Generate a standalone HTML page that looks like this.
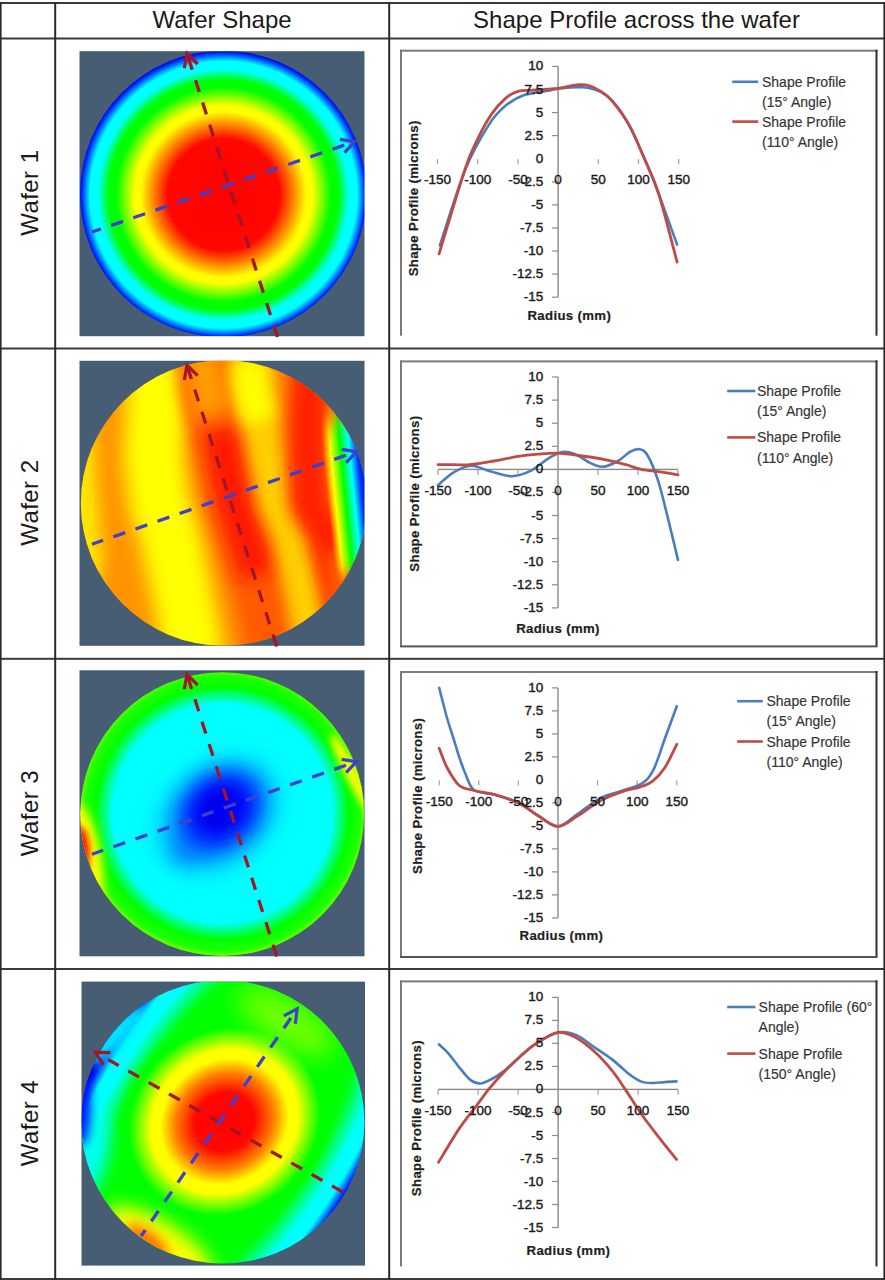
<!DOCTYPE html><html><head><meta charset="utf-8"><style>html,body{margin:0;padding:0;background:#fff;overflow:hidden}svg{display:block}</style></head><body><svg width="885" height="1280" viewBox="0 0 885 1280"><style>.tl{font-family:"Liberation Sans",sans-serif;font-size:13.5px;fill:#1a1a1a;stroke:#1a1a1a;stroke-width:0.4px}.at{font-family:"Liberation Sans",sans-serif;font-size:13.2px;font-weight:bold;letter-spacing:0.35px;fill:#1e1e1e;stroke:#1e1e1e;stroke-width:0.2px}.lg{font-family:"Liberation Sans",sans-serif;font-size:14px;fill:#333;stroke:#333;stroke-width:0.15px}.hd{font-family:"Liberation Sans",sans-serif;font-size:24px;fill:#1a1a1a}.wl{font-family:"Liberation Sans",sans-serif;font-size:24px;letter-spacing:0.45px;fill:#1a1a1a}</style><defs><filter id="b2" filterUnits="userSpaceOnUse" x="-150" y="-150" width="600" height="600"><feGaussianBlur stdDeviation="2"/></filter><filter id="b3" filterUnits="userSpaceOnUse" x="-150" y="-150" width="600" height="600"><feGaussianBlur stdDeviation="3"/></filter><filter id="b4" filterUnits="userSpaceOnUse" x="-150" y="-150" width="600" height="600"><feGaussianBlur stdDeviation="4"/></filter><filter id="b5" filterUnits="userSpaceOnUse" x="-150" y="-150" width="600" height="600"><feGaussianBlur stdDeviation="5"/></filter><filter id="b6" filterUnits="userSpaceOnUse" x="-150" y="-150" width="600" height="600"><feGaussianBlur stdDeviation="6"/></filter><filter id="b7" filterUnits="userSpaceOnUse" x="-150" y="-150" width="600" height="600"><feGaussianBlur stdDeviation="7"/></filter><filter id="b8" filterUnits="userSpaceOnUse" x="-150" y="-150" width="600" height="600"><feGaussianBlur stdDeviation="8"/></filter><filter id="b9" filterUnits="userSpaceOnUse" x="-150" y="-150" width="600" height="600"><feGaussianBlur stdDeviation="9"/></filter><filter id="b10" filterUnits="userSpaceOnUse" x="-150" y="-150" width="600" height="600"><feGaussianBlur stdDeviation="10"/></filter><filter id="b12" filterUnits="userSpaceOnUse" x="-150" y="-150" width="600" height="600"><feGaussianBlur stdDeviation="12"/></filter><filter id="b14" filterUnits="userSpaceOnUse" x="-150" y="-150" width="600" height="600"><feGaussianBlur stdDeviation="14"/></filter><linearGradient id="g2" gradientUnits="userSpaceOnUse" x1="2.8" y1="173.2" x2="282.2" y2="111.8"><stop offset="0.0116" stop-color="#ffee00"/><stop offset="0.0629" stop-color="#ffb800"/><stop offset="0.1380" stop-color="#ff9400"/><stop offset="0.2131" stop-color="#ffd000"/><stop offset="0.2746" stop-color="#ffff00"/><stop offset="0.3429" stop-color="#ffff00"/><stop offset="0.4112" stop-color="#ff9800"/><stop offset="0.4727" stop-color="#ff3800"/><stop offset="0.5137" stop-color="#ff1800"/><stop offset="0.5820" stop-color="#ff1800"/><stop offset="0.6366" stop-color="#ff6400"/><stop offset="0.6776" stop-color="#ffa400"/><stop offset="0.7151" stop-color="#ffb800"/><stop offset="0.7595" stop-color="#ff4c00"/><stop offset="0.8074" stop-color="#ff1800"/><stop offset="0.8483" stop-color="#ff3000"/><stop offset="0.9883" stop-color="#ff7000"/></linearGradient><linearGradient id="g2r" gradientUnits="userSpaceOnUse" x1="245" y1="143" x2="290" y2="138.5"><stop offset="0.08" stop-color="#ffff00" stop-opacity="0"/><stop offset="0.25" stop-color="#ffff00"/><stop offset="0.47" stop-color="#00ff00"/><stop offset="0.67" stop-color="#00ffff"/><stop offset="0.84" stop-color="#0030ff"/><stop offset="1" stop-color="#0010d0"/></linearGradient><mask id="m2"><ellipse cx="275" cy="132" rx="45" ry="84" fill="#fff" filter="url(#b8)"/></mask></defs><text x="222" y="28" text-anchor="middle" class="hd">Wafer Shape</text><text x="636.5" y="28" text-anchor="middle" class="hd">Shape Profile across the wafer</text><text x="38.2" y="235.8" transform="rotate(-90 38.2 235.8)" class="wl">Wafer 1</text><text x="38.2" y="545.8" transform="rotate(-90 38.2 545.8)" class="wl">Wafer 2</text><text x="38.2" y="856.2" transform="rotate(-90 38.2 856.2)" class="wl">Wafer 3</text><text x="38.2" y="1166.2" transform="rotate(-90 38.2 1166.2)" class="wl">Wafer 4</text><g transform="translate(79.5,51.2)"><rect x="0" y="0" width="285" height="285" fill="#465d73"/><clipPath id="cp1"><circle cx="143.8" cy="142.7" r="143.3"/></clipPath><clipPath id="cr1"><rect x="0" y="0" width="285" height="285"/></clipPath><g clip-path="url(#cr1)"><g clip-path="url(#cp1)"><radialGradient id="g1" gradientUnits="userSpaceOnUse" cx="144" cy="143.5" r="143.5"><stop offset="0" stop-color="#ff0000"/><stop offset="0.39" stop-color="#ff0800"/><stop offset="0.49" stop-color="#ff8800"/><stop offset="0.58" stop-color="#ffff00"/><stop offset="0.62" stop-color="#ffff00"/><stop offset="0.75" stop-color="#00ff00"/><stop offset="0.80" stop-color="#00ff00"/><stop offset="0.875" stop-color="#00ffff"/><stop offset="0.93" stop-color="#00ffff"/><stop offset="0.985" stop-color="#0030ff"/><stop offset="1" stop-color="#0010d8"/></radialGradient><rect x="0" y="0" width="285" height="285" fill="url(#g1)"/></g></g></g><line x1="187" y1="53.5" x2="277.5" y2="337" stroke="#a3162a" stroke-width="3.3" stroke-dasharray="12.5 10.9" stroke-dashoffset="18.8" stroke-linecap="butt"/><polyline points="197.7,64.0 187,53.5 184.3,68.3" fill="none" stroke="#a3162a" stroke-width="3.2" stroke-linejoin="miter"/><line x1="354.7" y1="141.6" x2="92" y2="232" stroke="#3f3fd0" stroke-width="3.3" stroke-dasharray="12.5 10.9" stroke-dashoffset="12.4" stroke-linecap="butt"/><polyline points="344.5,152.6 354.7,141.6 339.9,139.3" fill="none" stroke="#3f3fd0" stroke-width="3.2" stroke-linejoin="miter"/><g transform="translate(79.5,360.8)"><rect x="0" y="0" width="285" height="285" fill="#465d73"/><clipPath id="cp2"><circle cx="144.2" cy="142.2" r="142.8"/></clipPath><clipPath id="cr2"><rect x="0" y="0" width="285" height="285"/></clipPath><g clip-path="url(#cr2)"><g clip-path="url(#cp2)"><rect x="0" y="0" width="285" height="285" fill="#ff9400"/><path d="M-6,-20 L2,120 L8,200 L-10,300" fill="none" stroke="#ffe800" stroke-width="30" stroke-linejoin="round" filter="url(#b8)"/><path d="M80,-20 L78,23 L74,97 L80,143 L90,174 L104,239 L115,300" fill="none" stroke="#ffff00" stroke-width="60" stroke-linejoin="round" filter="url(#b9)"/><path d="M124,-20 L128,23 L140,68 L155,143 L165,174 L183,239 L195,300" fill="none" stroke="#ff5a00" stroke-width="56" stroke-linejoin="round" filter="url(#b8)"/><path d="M140,68 L155,143 L165,174 L178,215" fill="none" stroke="#ff1800" stroke-width="34" stroke-linejoin="round" filter="url(#b9)"/><path d="M120,-20 L126,20 L134,55" fill="none" stroke="#ff9c00" stroke-width="36" stroke-linejoin="round" filter="url(#b9)"/><path d="M168,-20 L171,23 L182,68 L197,143 L212,174 L225,239 L235,300" fill="none" stroke="#ffd000" stroke-width="34" stroke-linejoin="round" filter="url(#b8)"/><path d="M171,0 L171,23 L180,60" fill="none" stroke="#ffff00" stroke-width="34" stroke-linejoin="round" filter="url(#b8)"/><path d="M230,-20 L230,23 L228,68 L230,143 L248,174 L265,239 L275,300" fill="none" stroke="#ff2000" stroke-width="40" stroke-linejoin="round" filter="url(#b8)"/><path d="M262,190 L265,239 L275,300" fill="none" stroke="#ff6000" stroke-width="30" stroke-linejoin="round" filter="url(#b9)"/><rect x="0" y="0" width="285" height="285" fill="url(#g2r)" mask="url(#m2)"/></g></g></g><line x1="187" y1="365.2" x2="276.8" y2="646.5" stroke="#a3162a" stroke-width="3.3" stroke-dasharray="12.5 10.9" stroke-dashoffset="21.4" stroke-linecap="butt"/><polyline points="197.7,375.7 187,365.2 184.3,380.0" fill="none" stroke="#a3162a" stroke-width="3.2" stroke-linejoin="miter"/><line x1="356.4" y1="451.6" x2="92" y2="544.2" stroke="#3f3fd0" stroke-width="3.3" stroke-dasharray="12.5 10.9" stroke-dashoffset="12.4" stroke-linecap="butt"/><polyline points="346.2,462.6 356.4,451.6 341.6,449.3" fill="none" stroke="#3f3fd0" stroke-width="3.2" stroke-linejoin="miter"/><g transform="translate(79.5,670.3)"><rect x="0" y="0" width="285" height="286" fill="#465d73"/><clipPath id="cp3"><circle cx="142.7" cy="143.8" r="141.9"/></clipPath><clipPath id="cr3"><rect x="0" y="0" width="285" height="286"/></clipPath><g clip-path="url(#cr3)"><g clip-path="url(#cp3)"><radialGradient id="g3" gradientUnits="userSpaceOnUse" cx="143" cy="143" r="142"><stop offset="0" stop-color="#00ffff"/><stop offset="0.77" stop-color="#00ffff"/><stop offset="0.845" stop-color="#00ff60"/><stop offset="0.89" stop-color="#00ff00"/><stop offset="0.97" stop-color="#20ff00"/><stop offset="1" stop-color="#60ff00"/></radialGradient><rect x="0" y="0" width="286" height="286" fill="url(#g3)"/><ellipse cx="138" cy="145" rx="64" ry="46" transform="rotate(-40 138 145)" fill="#00a8ff" filter="url(#b12)"/><ellipse cx="118" cy="170" rx="30" ry="16" transform="rotate(-40 118 170)" fill="#0090ff" filter="url(#b9)"/><ellipse cx="141" cy="140" rx="44" ry="36" transform="rotate(-40 141 140)" fill="#0020ff" filter="url(#b10)"/><ellipse cx="141" cy="139" rx="26" ry="22" transform="rotate(-40 141 139)" fill="#0000f0" filter="url(#b7)"/><ellipse cx="4" cy="192" rx="18" ry="60" transform="rotate(-8 4 192)" fill="#ffff00" filter="url(#b5)"/><ellipse cx="0" cy="184" rx="10" ry="28" fill="#ff1000" filter="url(#b3)"/><ellipse cx="275" cy="108" rx="7" ry="50" transform="rotate(-28 275 108)" fill="#f0ff00" filter="url(#b3)"/></g></g></g><line x1="187" y1="674.5" x2="276.8" y2="956.5" stroke="#a3162a" stroke-width="3.3" stroke-dasharray="12.5 10.9" stroke-dashoffset="20.7" stroke-linecap="butt"/><polyline points="197.7,685.0 187,674.5 184.3,689.3" fill="none" stroke="#a3162a" stroke-width="3.2" stroke-linejoin="miter"/><line x1="356.4" y1="761.6" x2="92" y2="854.2" stroke="#3f3fd0" stroke-width="3.3" stroke-dasharray="12.5 10.9" stroke-dashoffset="12.4" stroke-linecap="butt"/><polyline points="346.2,772.6 356.4,761.6 341.6,759.3" fill="none" stroke="#3f3fd0" stroke-width="3.2" stroke-linejoin="miter"/><g transform="translate(81.5,981.6)"><rect x="0" y="0" width="283.5" height="284" fill="#465d73"/><clipPath id="cp4"><circle cx="141.3" cy="140.3" r="141.6"/></clipPath><clipPath id="cr4"><rect x="0" y="0" width="283.5" height="284"/></clipPath><g clip-path="url(#cr4)"><g clip-path="url(#cp4)"><radialGradient id="g4" gradientUnits="userSpaceOnUse" cx="144" cy="142" r="141" gradientTransform="translate(144 142) rotate(32) scale(1 2.1) translate(-144 -142)"><stop offset="0.62" stop-color="#00ff00"/><stop offset="0.68" stop-color="#00ff10"/><stop offset="0.83" stop-color="#00ffff"/><stop offset="0.91" stop-color="#00ffff"/><stop offset="0.975" stop-color="#0020ff"/><stop offset="1" stop-color="#0000d0"/></radialGradient><radialGradient id="g4b" gradientUnits="userSpaceOnUse" cx="143" cy="140" r="141" gradientTransform="translate(143 140) rotate(-40) scale(1.1 1) translate(-143 -140)"><stop offset="0" stop-color="#ff0000"/><stop offset="0.20" stop-color="#ff0800"/><stop offset="0.33" stop-color="#ff8000"/><stop offset="0.43" stop-color="#ffff00"/><stop offset="0.49" stop-color="#ffff00"/><stop offset="0.64" stop-color="#00ff00"/><stop offset="0.74" stop-color="#00ff00" stop-opacity="0"/></radialGradient><rect x="0" y="0" width="284" height="284" fill="url(#g4)"/><rect x="0" y="0" width="284" height="284" fill="url(#g4b)"/><ellipse cx="34" cy="52" rx="12" ry="40" transform="rotate(42 34 52)" fill="#00e8ff" filter="url(#b6)"/><ellipse cx="205" cy="40" rx="55" ry="22" transform="rotate(32 205 40)" fill="#8cff00" opacity="0.8" filter="url(#b12)"/><ellipse cx="10" cy="172" rx="16" ry="44" transform="rotate(12 10 172)" fill="#00ffee" filter="url(#b8)"/><ellipse cx="0" cy="122" rx="9" ry="42" fill="#0018ff" filter="url(#b5)"/><ellipse cx="78" cy="262" rx="62" ry="22" transform="rotate(32 78 262)" fill="#ffff00" filter="url(#b9)"/><ellipse cx="66" cy="260" rx="26" ry="10" transform="rotate(38 66 260)" fill="#ff7000" filter="url(#b6)"/></g></g></g><line x1="95.4" y1="1052.3" x2="342.9" y2="1192" stroke="#a3162a" stroke-width="3.3" stroke-dasharray="12.5 10.9" stroke-dashoffset="9.1" stroke-linecap="butt"/><polyline points="110.4,1052.7 95.4,1052.3 103.5,1064.9" fill="none" stroke="#a3162a" stroke-width="3.2" stroke-linejoin="miter"/><line x1="297.1" y1="1008.9" x2="141.2" y2="1236" stroke="#3f3fd0" stroke-width="3.3" stroke-dasharray="12.5 10.9" stroke-dashoffset="12.4" stroke-linecap="butt"/><polyline points="295.4,1023.8 297.1,1008.9 283.8,1015.8" fill="none" stroke="#3f3fd0" stroke-width="3.2" stroke-linejoin="miter"/><rect x="400" y="49.7" width="477.5" height="2" fill="#7a7a7a"/><rect x="400" y="49.7" width="2" height="286.0" fill="#7a7a7a"/><rect x="875.5" y="49.7" width="2" height="286.0" fill="#303030"/><rect x="557.4" y="66.4" width="1.4" height="230.8" fill="#8a8a8a"/><rect x="552.1" y="65.8" width="6" height="1.2" fill="#8a8a8a"/><rect x="552.1" y="88.9" width="6" height="1.2" fill="#8a8a8a"/><rect x="552.1" y="112.0" width="6" height="1.2" fill="#8a8a8a"/><rect x="552.1" y="135.0" width="6" height="1.2" fill="#8a8a8a"/><rect x="552.1" y="181.2" width="6" height="1.2" fill="#8a8a8a"/><rect x="552.1" y="204.3" width="6" height="1.2" fill="#8a8a8a"/><rect x="552.1" y="227.4" width="6" height="1.2" fill="#8a8a8a"/><rect x="552.1" y="250.4" width="6" height="1.2" fill="#8a8a8a"/><rect x="552.1" y="273.5" width="6" height="1.2" fill="#8a8a8a"/><rect x="552.1" y="296.6" width="6" height="1.2" fill="#8a8a8a"/><rect x="436.9" y="159.2" width="1.2" height="5" fill="#a0a0a0"/><rect x="477.1" y="159.2" width="1.2" height="5" fill="#a0a0a0"/><rect x="517.3" y="159.2" width="1.2" height="5" fill="#a0a0a0"/><rect x="597.7" y="159.2" width="1.2" height="5" fill="#a0a0a0"/><rect x="637.9" y="159.2" width="1.2" height="5" fill="#a0a0a0"/><rect x="678.1" y="159.2" width="1.2" height="5" fill="#a0a0a0"/><path d="M439.9,245.5 C444.1,233.0 456.7,190.9 464.8,170.7 C473.0,150.6 482.1,135.4 489.0,124.6 C495.8,113.7 500.1,110.3 505.8,105.5 C511.6,100.6 516.6,97.7 523.5,95.2 C530.5,92.8 541.9,91.9 547.6,90.8 C553.4,89.7 552.3,89.2 558.1,88.6 C563.9,88.0 576.2,87.0 582.2,87.2 C588.2,87.3 590.3,88.1 594.3,89.5 C598.3,90.8 601.9,91.5 606.3,95.2 C610.8,98.9 616.0,104.5 620.8,111.6 C625.6,118.7 629.9,126.6 635.3,137.8 C640.6,149.0 646.0,161.0 653.0,178.8 C659.9,196.6 673.1,233.6 677.1,244.6" fill="none" stroke="#4a7ebb" stroke-width="2.6" stroke-linecap="round" stroke-linejoin="round"/><path d="M439.1,253.8 C443.4,239.8 458.5,188.8 464.8,170.0 C471.1,151.1 472.5,149.9 476.9,140.6 C481.3,131.4 486.5,121.5 491.4,114.4 C496.2,107.3 501.4,101.9 505.8,98.1 C510.3,94.2 513.5,92.6 517.9,91.3 C522.3,90.0 525.7,90.7 532.4,90.2 C539.1,89.7 550.7,89.3 558.1,88.4 C565.5,87.5 571.5,85.3 576.6,84.9 C581.7,84.4 584.8,84.5 588.7,85.5 C592.5,86.5 596.0,88.2 599.9,90.8 C603.8,93.3 607.0,95.1 612.0,100.9 C616.9,106.8 624.3,116.4 629.7,125.9 C635.0,135.5 639.3,147.0 644.1,158.3 C649.0,169.5 653.1,176.2 658.6,193.5 C664.1,210.8 674.0,250.7 677.1,262.1" fill="none" stroke="#be4b48" stroke-width="2.8" stroke-linecap="round" stroke-linejoin="round"/><text x="543.2" y="70.4" text-anchor="end" class="tl">10</text><text x="543.2" y="93.5" text-anchor="end" class="tl">7.5</text><text x="543.2" y="116.6" text-anchor="end" class="tl">5</text><text x="543.2" y="139.6" text-anchor="end" class="tl">2.5</text><text x="543.2" y="162.7" text-anchor="end" class="tl">0</text><text x="543.2" y="185.8" text-anchor="end" class="tl">-2.5</text><text x="543.2" y="208.9" text-anchor="end" class="tl">-5</text><text x="543.2" y="232.0" text-anchor="end" class="tl">-7.5</text><text x="543.2" y="255.0" text-anchor="end" class="tl">-10</text><text x="543.2" y="278.1" text-anchor="end" class="tl">-12.5</text><text x="543.2" y="301.2" text-anchor="end" class="tl">-15</text><text x="437.5" y="184.3" text-anchor="middle" class="tl">-150</text><text x="477.7" y="184.3" text-anchor="middle" class="tl">-100</text><text x="517.9" y="184.3" text-anchor="middle" class="tl">-50</text><text x="558.1" y="184.3" text-anchor="middle" class="tl">0</text><text x="598.3" y="184.3" text-anchor="middle" class="tl">50</text><text x="638.5" y="184.3" text-anchor="middle" class="tl">100</text><text x="678.7" y="184.3" text-anchor="middle" class="tl">150</text><text x="417.9" y="198.3" transform="rotate(-90 417.9 198.3)" text-anchor="middle" class="at">Shape Profile (microns)</text><text x="569.3" y="320" text-anchor="middle" class="at">Radius (mm)</text><rect x="732.3" y="80.5" width="25.90000000000009" height="2.6" fill="#4a7ebb"/><text x="762" y="86.8" class="lg">Shape Profile</text><text x="762" y="107.0" class="lg">(15° Angle)</text><rect x="732.3" y="120.3" width="25.90000000000009" height="2.6" fill="#be4b48"/><text x="762" y="126.6" class="lg">Shape Profile</text><text x="762" y="146.8" class="lg">(110° Angle)</text><rect x="400" y="360.4" width="477.5" height="2" fill="#7a7a7a"/><rect x="400" y="360.4" width="2" height="286.0" fill="#7a7a7a"/><rect x="875.5" y="360.4" width="2" height="286.0" fill="#303030"/><rect x="400" y="645.4" width="477.5" height="2" fill="#555"/><rect x="557.3" y="377.0" width="1.4" height="230.9" fill="#8a8a8a"/><rect x="552.0" y="376.4" width="6" height="1.2" fill="#8a8a8a"/><rect x="552.0" y="399.5" width="6" height="1.2" fill="#8a8a8a"/><rect x="552.0" y="422.6" width="6" height="1.2" fill="#8a8a8a"/><rect x="552.0" y="445.7" width="6" height="1.2" fill="#8a8a8a"/><rect x="552.0" y="491.8" width="6" height="1.2" fill="#8a8a8a"/><rect x="552.0" y="514.9" width="6" height="1.2" fill="#8a8a8a"/><rect x="552.0" y="538.0" width="6" height="1.2" fill="#8a8a8a"/><rect x="552.0" y="561.1" width="6" height="1.2" fill="#8a8a8a"/><rect x="552.0" y="584.2" width="6" height="1.2" fill="#8a8a8a"/><rect x="552.0" y="607.3" width="6" height="1.2" fill="#8a8a8a"/><rect x="438.0" y="468.7" width="240.0" height="1.4" fill="#8a8a8a"/><rect x="437.4" y="469.9" width="1.2" height="5" fill="#a0a0a0"/><rect x="477.4" y="469.9" width="1.2" height="5" fill="#a0a0a0"/><rect x="517.4" y="469.9" width="1.2" height="5" fill="#a0a0a0"/><rect x="597.4" y="469.9" width="1.2" height="5" fill="#a0a0a0"/><rect x="637.4" y="469.9" width="1.2" height="5" fill="#a0a0a0"/><rect x="677.4" y="469.9" width="1.2" height="5" fill="#a0a0a0"/><path d="M438.0,485.1 C440.7,482.9 448.4,475.4 454.0,472.1 C459.6,468.9 465.6,465.8 471.6,465.7 C477.6,465.5 483.3,469.5 490.0,471.2 C496.7,473.0 504.9,476.2 511.6,476.2 C518.3,476.2 523.6,474.3 530.0,471.2 C536.4,468.1 544.3,460.6 550.0,457.4 C555.7,454.1 559.7,452.1 564.4,451.8 C569.1,451.5 573.7,453.7 578.0,455.5 C582.3,457.4 585.9,461.0 590.0,462.9 C594.1,464.8 598.1,467.1 602.8,466.8 C607.5,466.5 613.5,463.5 618.0,461.0 C622.5,458.6 626.4,453.8 630.0,451.8 C633.6,449.9 636.7,448.7 639.6,449.3 C642.5,449.9 644.5,450.3 647.6,455.5 C650.7,460.7 654.5,469.7 658.0,480.4 C661.5,491.2 665.1,506.9 668.4,520.2 C671.7,533.4 676.4,553.3 678.0,559.9" fill="none" stroke="#4a7ebb" stroke-width="2.6" stroke-linecap="round" stroke-linejoin="round"/><path d="M438.0,464.7 C440.7,464.7 448.7,464.7 454.0,464.7 C459.3,464.7 463.3,465.4 470.0,464.7 C476.7,464.1 486.0,462.4 494.0,461.0 C502.0,459.7 510.7,457.6 518.0,456.4 C525.3,455.3 531.3,454.7 538.0,454.1 C544.7,453.6 550.7,452.9 558.0,453.2 C565.3,453.5 574.0,454.9 582.0,456.0 C590.0,457.1 598.7,458.3 606.0,459.8 C613.3,461.2 620.1,463.1 626.0,464.7 C631.9,466.3 635.2,468.1 641.2,469.4 C647.2,470.6 655.9,471.2 662.0,472.1 C668.1,473.1 675.3,474.4 678.0,474.9" fill="none" stroke="#be4b48" stroke-width="2.8" stroke-linecap="round" stroke-linejoin="round"/><text x="543.2" y="381.0" text-anchor="end" class="tl">10</text><text x="543.2" y="404.1" text-anchor="end" class="tl">7.5</text><text x="543.2" y="427.2" text-anchor="end" class="tl">5</text><text x="543.2" y="450.3" text-anchor="end" class="tl">2.5</text><text x="543.2" y="473.4" text-anchor="end" class="tl">0</text><text x="543.2" y="496.4" text-anchor="end" class="tl">-2.5</text><text x="543.2" y="519.5" text-anchor="end" class="tl">-5</text><text x="543.2" y="542.6" text-anchor="end" class="tl">-7.5</text><text x="543.2" y="565.7" text-anchor="end" class="tl">-10</text><text x="543.2" y="588.8" text-anchor="end" class="tl">-12.5</text><text x="543.2" y="611.9" text-anchor="end" class="tl">-15</text><text x="438.0" y="495.0" text-anchor="middle" class="tl">-150</text><text x="478.0" y="495.0" text-anchor="middle" class="tl">-100</text><text x="518.0" y="495.0" text-anchor="middle" class="tl">-50</text><text x="558.0" y="495.0" text-anchor="middle" class="tl">0</text><text x="598.0" y="495.0" text-anchor="middle" class="tl">50</text><text x="638.0" y="495.0" text-anchor="middle" class="tl">100</text><text x="678.0" y="495.0" text-anchor="middle" class="tl">150</text><text x="419.2" y="493.6" transform="rotate(-90 419.2 493.6)" text-anchor="middle" class="at">Shape Profile (microns)</text><text x="558" y="633" text-anchor="middle" class="at">Radius (mm)</text><rect x="727.2" y="389.7" width="28.199999999999932" height="2.6" fill="#4a7ebb"/><text x="757" y="396.0" class="lg">Shape Profile</text><text x="757" y="416.2" class="lg">(15° Angle)</text><rect x="727.2" y="436.1" width="28.199999999999932" height="2.6" fill="#be4b48"/><text x="757" y="442.4" class="lg">Shape Profile</text><text x="757" y="462.6" class="lg">(110° Angle)</text><rect x="400" y="671.0" width="477.5" height="2" fill="#7a7a7a"/><rect x="400" y="671.0" width="2" height="286.0" fill="#7a7a7a"/><rect x="875.5" y="671.0" width="2" height="286.0" fill="#303030"/><rect x="400" y="956.0" width="477.5" height="2" fill="#555"/><rect x="557.3" y="687.9" width="1.4" height="230.0" fill="#8a8a8a"/><rect x="552.0" y="687.3" width="6" height="1.2" fill="#8a8a8a"/><rect x="552.0" y="710.3" width="6" height="1.2" fill="#8a8a8a"/><rect x="552.0" y="733.3" width="6" height="1.2" fill="#8a8a8a"/><rect x="552.0" y="756.3" width="6" height="1.2" fill="#8a8a8a"/><rect x="552.0" y="802.3" width="6" height="1.2" fill="#8a8a8a"/><rect x="552.0" y="825.3" width="6" height="1.2" fill="#8a8a8a"/><rect x="552.0" y="848.3" width="6" height="1.2" fill="#8a8a8a"/><rect x="552.0" y="871.3" width="6" height="1.2" fill="#8a8a8a"/><rect x="552.0" y="894.3" width="6" height="1.2" fill="#8a8a8a"/><rect x="552.0" y="917.3" width="6" height="1.2" fill="#8a8a8a"/><rect x="438.6" y="780.4" width="1.2" height="5" fill="#a0a0a0"/><rect x="478.2" y="780.4" width="1.2" height="5" fill="#a0a0a0"/><rect x="517.8" y="780.4" width="1.2" height="5" fill="#a0a0a0"/><rect x="597.0" y="780.4" width="1.2" height="5" fill="#a0a0a0"/><rect x="636.6" y="780.4" width="1.2" height="5" fill="#a0a0a0"/><rect x="676.2" y="780.4" width="1.2" height="5" fill="#a0a0a0"/><path d="M439.2,687.9 C440.4,692.5 444.0,707.1 446.3,715.5 C448.7,723.9 451.2,731.3 453.5,738.5 C455.7,745.7 457.8,752.9 459.8,758.7 C461.8,764.6 463.0,768.2 465.3,773.5 C467.7,778.7 469.2,786.5 474.0,790.0 C478.9,793.5 487.2,792.5 494.6,794.6 C502.0,796.8 511.1,799.4 518.4,802.9 C525.7,806.4 531.6,811.9 538.2,815.8 C544.8,819.7 551.4,826.7 558.0,826.4 C564.6,826.1 570.8,818.6 577.8,813.9 C584.8,809.3 592.7,802.1 600.0,798.3 C607.2,794.5 614.5,793.4 621.4,790.9 C628.2,788.5 635.9,787.1 641.2,783.8 C646.4,780.4 649.1,778.2 653.0,770.7 C657.0,763.2 661.0,749.2 664.9,738.5 C668.9,727.8 674.8,711.7 676.8,706.3" fill="none" stroke="#4a7ebb" stroke-width="2.6" stroke-linecap="round" stroke-linejoin="round"/><path d="M439.2,748.3 C440.5,751.6 443.8,761.5 447.1,767.7 C450.4,773.8 454.5,781.4 459.0,785.2 C463.5,789.0 468.1,788.9 474.0,790.5 C480.0,792.0 487.2,792.5 494.6,794.6 C502.0,796.7 511.1,799.4 518.4,802.9 C525.7,806.4 531.6,811.9 538.2,815.8 C544.8,819.7 551.4,826.4 558.0,826.4 C564.6,826.4 570.8,820.0 577.8,815.8 C584.8,811.6 592.7,805.0 600.0,801.1 C607.2,797.1 614.6,794.2 621.4,791.9 C628.1,789.5 635.1,788.7 640.4,786.9 C645.6,785.1 648.9,784.0 653.0,780.8 C657.1,777.6 661.0,773.7 664.9,767.6 C668.9,761.5 674.8,748.2 676.8,744.3" fill="none" stroke="#be4b48" stroke-width="2.8" stroke-linecap="round" stroke-linejoin="round"/><text x="543.2" y="691.9" text-anchor="end" class="tl">10</text><text x="543.2" y="714.9" text-anchor="end" class="tl">7.5</text><text x="543.2" y="737.9" text-anchor="end" class="tl">5</text><text x="543.2" y="760.9" text-anchor="end" class="tl">2.5</text><text x="543.2" y="783.9" text-anchor="end" class="tl">0</text><text x="543.2" y="806.9" text-anchor="end" class="tl">-2.5</text><text x="543.2" y="829.9" text-anchor="end" class="tl">-5</text><text x="543.2" y="852.9" text-anchor="end" class="tl">-7.5</text><text x="543.2" y="875.9" text-anchor="end" class="tl">-10</text><text x="543.2" y="898.9" text-anchor="end" class="tl">-12.5</text><text x="543.2" y="921.9" text-anchor="end" class="tl">-15</text><text x="439.2" y="805.5" text-anchor="middle" class="tl">-150</text><text x="478.8" y="805.5" text-anchor="middle" class="tl">-100</text><text x="518.4" y="805.5" text-anchor="middle" class="tl">-50</text><text x="558.0" y="805.5" text-anchor="middle" class="tl">0</text><text x="597.6" y="805.5" text-anchor="middle" class="tl">50</text><text x="637.2" y="805.5" text-anchor="middle" class="tl">100</text><text x="676.8" y="805.5" text-anchor="middle" class="tl">150</text><text x="422.1" y="795.9" transform="rotate(-90 422.1 795.9)" text-anchor="middle" class="at">Shape Profile (microns)</text><text x="561.4" y="939.5" text-anchor="middle" class="at">Radius (mm)</text><rect x="737.2" y="699.9" width="25.59999999999991" height="2.6" fill="#4a7ebb"/><text x="766.5" y="706.2" class="lg">Shape Profile</text><text x="766.5" y="726.4" class="lg">(15° Angle)</text><rect x="737.2" y="740.2" width="25.59999999999991" height="2.6" fill="#be4b48"/><text x="766.5" y="746.5" class="lg">Shape Profile</text><text x="766.5" y="766.7" class="lg">(110° Angle)</text><rect x="400" y="980.4" width="477.5" height="2" fill="#7a7a7a"/><rect x="400" y="980.4" width="2" height="286.0000000000001" fill="#7a7a7a"/><rect x="875.5" y="980.4" width="2" height="286.0000000000001" fill="#303030"/><rect x="557.4" y="997.4" width="1.4" height="230.1" fill="#8a8a8a"/><rect x="552.1" y="996.8" width="6" height="1.2" fill="#8a8a8a"/><rect x="552.1" y="1019.8" width="6" height="1.2" fill="#8a8a8a"/><rect x="552.1" y="1042.8" width="6" height="1.2" fill="#8a8a8a"/><rect x="552.1" y="1065.8" width="6" height="1.2" fill="#8a8a8a"/><rect x="552.1" y="1111.9" width="6" height="1.2" fill="#8a8a8a"/><rect x="552.1" y="1134.9" width="6" height="1.2" fill="#8a8a8a"/><rect x="552.1" y="1157.9" width="6" height="1.2" fill="#8a8a8a"/><rect x="552.1" y="1180.9" width="6" height="1.2" fill="#8a8a8a"/><rect x="552.1" y="1203.9" width="6" height="1.2" fill="#8a8a8a"/><rect x="552.1" y="1226.9" width="6" height="1.2" fill="#8a8a8a"/><rect x="438.1" y="1088.7" width="240.0" height="1.4" fill="#8a8a8a"/><rect x="437.5" y="1089.9" width="1.2" height="5" fill="#a0a0a0"/><rect x="477.5" y="1089.9" width="1.2" height="5" fill="#a0a0a0"/><rect x="517.5" y="1089.9" width="1.2" height="5" fill="#a0a0a0"/><rect x="597.5" y="1089.9" width="1.2" height="5" fill="#a0a0a0"/><rect x="637.5" y="1089.9" width="1.2" height="5" fill="#a0a0a0"/><rect x="677.5" y="1089.9" width="1.2" height="5" fill="#a0a0a0"/><path d="M438.9,1044.3 C440.4,1045.7 444.3,1048.8 447.7,1052.6 C451.1,1056.4 455.4,1062.6 459.2,1067.3 C463.1,1071.9 467.2,1077.7 470.9,1080.4 C474.6,1083.1 477.8,1083.6 481.3,1083.4 C484.8,1083.1 488.0,1081.0 491.7,1079.0 C495.4,1077.1 498.8,1075.0 503.2,1071.6 C507.6,1068.2 512.7,1063.1 518.1,1058.5 C523.5,1053.9 529.0,1048.2 535.7,1043.9 C542.4,1039.5 551.3,1033.8 558.1,1032.4 C564.9,1030.9 570.5,1032.7 576.5,1035.1 C582.5,1037.6 588.2,1043.1 594.1,1047.1 C600.0,1051.1 605.8,1054.5 611.7,1059.1 C617.6,1063.6 624.4,1070.5 629.3,1074.3 C634.2,1078.0 637.4,1080.2 641.3,1081.6 C645.2,1083.1 649.0,1082.9 652.9,1083.0 C656.8,1083.1 660.6,1082.3 664.5,1082.1 C668.4,1081.8 674.5,1081.5 676.5,1081.4" fill="none" stroke="#4a7ebb" stroke-width="2.6" stroke-linecap="round" stroke-linejoin="round"/><path d="M438.6,1162.2 C442.0,1156.6 452.8,1138.1 459.2,1128.6 C465.6,1119.2 471.9,1111.8 476.8,1105.3 C481.7,1098.7 484.7,1094.3 488.6,1089.4 C492.5,1084.6 495.4,1081.2 500.3,1076.0 C505.2,1070.8 512.1,1063.9 517.9,1058.5 C523.8,1053.2 528.8,1048.2 535.5,1043.9 C542.2,1039.5 551.3,1033.4 558.1,1032.4 C564.9,1031.4 570.5,1034.8 576.5,1037.9 C582.5,1041.0 588.2,1045.8 594.1,1051.2 C600.0,1056.5 606.5,1063.7 611.7,1070.1 C616.9,1076.5 620.4,1082.1 625.3,1089.4 C630.2,1096.8 635.7,1106.0 641.3,1114.0 C646.9,1122.0 653.0,1129.7 658.9,1137.3 C664.8,1144.9 673.6,1155.7 676.5,1159.4" fill="none" stroke="#be4b48" stroke-width="2.8" stroke-linecap="round" stroke-linejoin="round"/><text x="543.2" y="1001.4" text-anchor="end" class="tl">10</text><text x="543.2" y="1024.4" text-anchor="end" class="tl">7.5</text><text x="543.2" y="1047.4" text-anchor="end" class="tl">5</text><text x="543.2" y="1070.4" text-anchor="end" class="tl">2.5</text><text x="543.2" y="1093.4" text-anchor="end" class="tl">0</text><text x="543.2" y="1116.5" text-anchor="end" class="tl">-2.5</text><text x="543.2" y="1139.5" text-anchor="end" class="tl">-5</text><text x="543.2" y="1162.5" text-anchor="end" class="tl">-7.5</text><text x="543.2" y="1185.5" text-anchor="end" class="tl">-10</text><text x="543.2" y="1208.5" text-anchor="end" class="tl">-12.5</text><text x="543.2" y="1231.5" text-anchor="end" class="tl">-15</text><text x="438.1" y="1115.0" text-anchor="middle" class="tl">-150</text><text x="478.1" y="1115.0" text-anchor="middle" class="tl">-100</text><text x="518.1" y="1115.0" text-anchor="middle" class="tl">-50</text><text x="558.1" y="1115.0" text-anchor="middle" class="tl">0</text><text x="598.1" y="1115.0" text-anchor="middle" class="tl">50</text><text x="638.1" y="1115.0" text-anchor="middle" class="tl">100</text><text x="678.1" y="1115.0" text-anchor="middle" class="tl">150</text><text x="421.4" y="1118.1" transform="rotate(-90 421.4 1118.1)" text-anchor="middle" class="at">Shape Profile (microns)</text><text x="568.4" y="1254.7" text-anchor="middle" class="at">Radius (mm)</text><rect x="727.2" y="1005.7" width="28.199999999999932" height="2.6" fill="#4a7ebb"/><text x="758.6" y="1012.0" class="lg">Shape Profile (60°</text><text x="758.6" y="1032.2" class="lg">Angle)</text><rect x="727.2" y="1052.3" width="28.199999999999932" height="2.6" fill="#be4b48"/><text x="758.6" y="1058.6" class="lg">Shape Profile</text><text x="758.6" y="1078.8" class="lg">(150° Angle)</text><rect x="0" y="2" width="885" height="2" fill="#3a3a3a"/><rect x="0" y="37.5" width="885" height="2" fill="#3a3a3a"/><rect x="0" y="347.5" width="885" height="2" fill="#3a3a3a"/><rect x="0" y="657.8" width="885" height="2" fill="#3a3a3a"/><rect x="0" y="968" width="885" height="2" fill="#3a3a3a"/><rect x="0" y="1278" width="885" height="2" fill="#3a3a3a"/><rect x="0" y="2" width="1.6" height="1278" fill="#2a2a2a"/><rect x="54.2" y="2" width="2" height="1278" fill="#2a2a2a"/><rect x="388.2" y="2" width="2" height="1278" fill="#2a2a2a"/><rect x="883.4" y="2" width="1.6" height="1278" fill="#2a2a2a"/></svg></body></html>
